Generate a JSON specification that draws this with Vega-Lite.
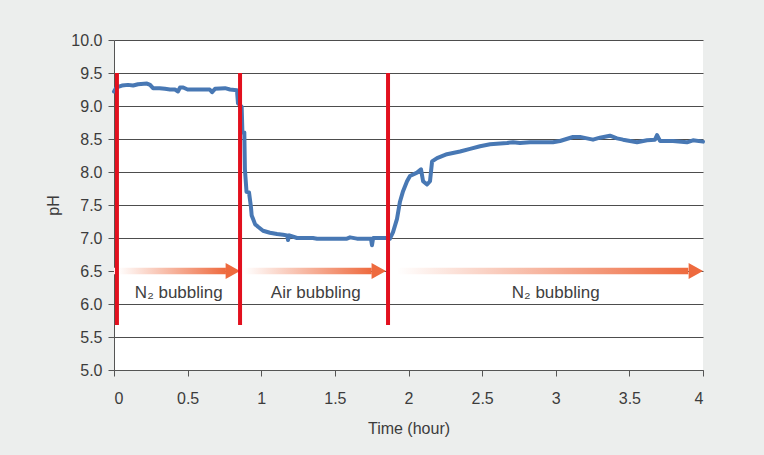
{
  "$schema": "https://vega.github.io/schema/vega-lite/v6.json",
  "width": 589,
  "height": 330,
  "autosize": {"type": "none"},
  "padding": {"left": 114, "top": 40, "right": 61, "bottom": 85},
  "background": "#eceeed",
  "config": {
    "view": {"fill": "#ffffff", "stroke": null},
    "font": "Liberation Sans",
    "axis": {
      "labelFont": "Liberation Sans",
      "titleFont": "Liberation Sans",
      "labelFontSize": 16,
      "titleFontSize": 16,
      "titleFontWeight": "normal",
      "labelColor": "#3c3c3c",
      "titleColor": "#3c3c3c",
      "domainColor": "#555555",
      "tickColor": "#555555",
      "gridColor": "#4d4d4d",
      "gridOpacity": 1
    }
  },
  "datasets": {
    "ph": [
      {"t": 0.0, "ph": 9.22}, {"t": 0.014, "ph": 9.27}, {"t": 0.027, "ph": 9.29}, {"t": 0.054, "ph": 9.31},
      {"t": 0.095, "ph": 9.32}, {"t": 0.13, "ph": 9.31}, {"t": 0.163, "ph": 9.33}, {"t": 0.224, "ph": 9.34},
      {"t": 0.245, "ph": 9.32}, {"t": 0.265, "ph": 9.27}, {"t": 0.31, "ph": 9.27}, {"t": 0.346, "ph": 9.26},
      {"t": 0.38, "ph": 9.25}, {"t": 0.414, "ph": 9.25}, {"t": 0.435, "ph": 9.22}, {"t": 0.448, "ph": 9.28},
      {"t": 0.47, "ph": 9.28}, {"t": 0.5, "ph": 9.25}, {"t": 0.65, "ph": 9.25}, {"t": 0.666, "ph": 9.21},
      {"t": 0.686, "ph": 9.26}, {"t": 0.754, "ph": 9.27}, {"t": 0.788, "ph": 9.25}, {"t": 0.835, "ph": 9.24},
      {"t": 0.842, "ph": 9.04}, {"t": 0.867, "ph": 8.99}, {"t": 0.872, "ph": 8.6}, {"t": 0.885, "ph": 8.6},
      {"t": 0.889, "ph": 8.04}, {"t": 0.9, "ph": 7.7}, {"t": 0.917, "ph": 7.69}, {"t": 0.93, "ph": 7.47},
      {"t": 0.935, "ph": 7.34}, {"t": 0.944, "ph": 7.29}, {"t": 0.958, "ph": 7.21}, {"t": 0.978, "ph": 7.17},
      {"t": 1.012, "ph": 7.11}, {"t": 1.059, "ph": 7.08}, {"t": 1.107, "ph": 7.06}, {"t": 1.148, "ph": 7.05},
      {"t": 1.175, "ph": 7.04}, {"t": 1.182, "ph": 6.97}, {"t": 1.19, "ph": 7.04}, {"t": 1.243, "ph": 7.0},
      {"t": 1.351, "ph": 7.0}, {"t": 1.379, "ph": 6.99}, {"t": 1.582, "ph": 6.99}, {"t": 1.603, "ph": 7.01},
      {"t": 1.65, "ph": 6.99}, {"t": 1.745, "ph": 6.99}, {"t": 1.752, "ph": 6.89}, {"t": 1.76, "ph": 7.0},
      {"t": 1.854, "ph": 7.0}, {"t": 1.874, "ph": 6.99}, {"t": 1.895, "ph": 7.09}, {"t": 1.922, "ph": 7.29},
      {"t": 1.942, "ph": 7.55}, {"t": 1.963, "ph": 7.71}, {"t": 1.99, "ph": 7.86}, {"t": 2.01, "ph": 7.94},
      {"t": 2.058, "ph": 7.99}, {"t": 2.085, "ph": 8.04}, {"t": 2.099, "ph": 7.86}, {"t": 2.126, "ph": 7.81},
      {"t": 2.146, "ph": 7.86}, {"t": 2.16, "ph": 8.16}, {"t": 2.194, "ph": 8.21}, {"t": 2.261, "ph": 8.27},
      {"t": 2.35, "ph": 8.31}, {"t": 2.418, "ph": 8.35}, {"t": 2.486, "ph": 8.39}, {"t": 2.554, "ph": 8.42},
      {"t": 2.669, "ph": 8.44}, {"t": 2.71, "ph": 8.45}, {"t": 2.757, "ph": 8.44}, {"t": 2.825, "ph": 8.45},
      {"t": 2.981, "ph": 8.45}, {"t": 3.029, "ph": 8.47}, {"t": 3.117, "ph": 8.53}, {"t": 3.165, "ph": 8.53},
      {"t": 3.212, "ph": 8.51}, {"t": 3.253, "ph": 8.49}, {"t": 3.3, "ph": 8.52}, {"t": 3.368, "ph": 8.55},
      {"t": 3.416, "ph": 8.51}, {"t": 3.457, "ph": 8.49}, {"t": 3.552, "ph": 8.45}, {"t": 3.62, "ph": 8.48},
      {"t": 3.674, "ph": 8.49}, {"t": 3.688, "ph": 8.56}, {"t": 3.708, "ph": 8.47}, {"t": 3.796, "ph": 8.47},
      {"t": 3.891, "ph": 8.45}, {"t": 3.932, "ph": 8.48}, {"t": 4.0, "ph": 8.46}
    ],
    "marks": [{"t": 0.02}, {"t": 0.856}, {"t": 1.861}],
    "arrows": [
      {"start": 0.0, "base": 0.76, "tip": 0.856},
      {"start": 0.856, "base": 1.75, "tip": 1.847},
      {"start": 1.861, "base": 3.9, "tip": 4.0}
    ],
    "labels": [
      {"t": 0.44, "ph": 6.17, "label": "N₂ bubbling"},
      {"t": 1.37, "ph": 6.17, "label": "Air bubbling"},
      {"t": 3.0, "ph": 6.17, "label": "N₂ bubbling"}
    ]
  },
  "layer": [
    {
      "data": {"name": "ph"},
      "mark": {"type": "line", "color": "#4878b4", "strokeWidth": 4, "strokeJoin": "round", "strokeCap": "round"},
      "encoding": {
        "x": {
          "field": "t", "type": "quantitative",
          "scale": {"domain": [0, 4], "nice": false},
          "axis": {
            "title": "Time (hour)", "values": [0, 0.5, 1, 1.5, 2, 2.5, 3, 3.5, 4],
            "format": "~g", "grid": false, "tickSize": 6, "labelPadding": 14, "titlePadding": 14
          }
        },
        "y": {
          "field": "ph", "type": "quantitative",
          "scale": {"domain": [5, 10], "nice": false, "zero": false},
          "axis": {
            "title": "pH", "values": [5, 5.5, 6, 6.5, 7, 7.5, 8, 8.5, 9, 9.5, 10],
            "format": ".1f", "grid": true, "tickSize": 6, "labelPadding": 6, "titlePadding": 9
          }
        }
      }
    },
    {
      "data": {"name": "arrows"},
      "mark": {
        "type": "rect",
        "color": {
          "gradient": "linear", "x1": 0, "x2": 1, "y1": 0, "y2": 0,
          "stops": [
            {"offset": 0, "color": "#ffffff"},
            {"offset": 0.03, "color": "#ffffff"},
            {"offset": 1, "color": "#ee6a3e"}
          ]
        }
      },
      "encoding": {
        "x": {"field": "start", "type": "quantitative",
          "axis": {
            "title": "Time (hour)", "values": [0, 0.5, 1, 1.5, 2, 2.5, 3, 3.5, 4],
            "format": "~g", "grid": false, "tickSize": 6, "labelPadding": 14, "titlePadding": 14
          }},
        "x2": {"field": "base"},
        "y": {"datum": 6.45, "type": "quantitative",
          "axis": {
            "title": "pH", "values": [5, 5.5, 6, 6.5, 7, 7.5, 8, 8.5, 9, 9.5, 10],
            "format": ".1f", "grid": true, "tickSize": 6, "labelPadding": 6, "titlePadding": 9
          }},
        "y2": {"datum": 6.55}
      }
    },
    {
      "data": {"name": "arrows"},
      "mark": {
        "type": "point", "filled": true, "opacity": 1, "color": "#ee6a3e",
        "shape": "M -1.8 -1 L 0 0 L -1.8 1 Z", "size": 256
      },
      "encoding": {
        "x": {"field": "tip", "type": "quantitative",
          "axis": {
            "title": "Time (hour)", "values": [0, 0.5, 1, 1.5, 2, 2.5, 3, 3.5, 4],
            "format": "~g", "grid": false, "tickSize": 6, "labelPadding": 14, "titlePadding": 14
          }},
        "y": {"datum": 6.5, "type": "quantitative",
          "axis": {
            "title": "pH", "values": [5, 5.5, 6, 6.5, 7, 7.5, 8, 8.5, 9, 9.5, 10],
            "format": ".1f", "grid": true, "tickSize": 6, "labelPadding": 6, "titlePadding": 9
          }}
      }
    },
    {
      "data": {"name": "marks"},
      "mark": {"type": "rule", "color": "#e2101e", "strokeWidth": 4},
      "encoding": {
        "x": {"field": "t", "type": "quantitative",
          "axis": {
            "title": "Time (hour)", "values": [0, 0.5, 1, 1.5, 2, 2.5, 3, 3.5, 4],
            "format": "~g", "grid": false, "tickSize": 6, "labelPadding": 14, "titlePadding": 14
          }},
        "y": {"datum": 9.5, "type": "quantitative",
          "axis": {
            "title": "pH", "values": [5, 5.5, 6, 6.5, 7, 7.5, 8, 8.5, 9, 9.5, 10],
            "format": ".1f", "grid": true, "tickSize": 6, "labelPadding": 6, "titlePadding": 9
          }},
        "y2": {"datum": 5.68}
      }
    },
    {
      "data": {"name": "labels"},
      "mark": {"type": "text", "fontSize": 17, "color": "#404040", "font": "Liberation Sans"},
      "encoding": {
        "x": {"field": "t", "type": "quantitative",
          "axis": {
            "title": "Time (hour)", "values": [0, 0.5, 1, 1.5, 2, 2.5, 3, 3.5, 4],
            "format": "~g", "grid": false, "tickSize": 6, "labelPadding": 14, "titlePadding": 14
          }},
        "y": {"field": "ph", "type": "quantitative",
          "axis": {
            "title": "pH", "values": [5, 5.5, 6, 6.5, 7, 7.5, 8, 8.5, 9, 9.5, 10],
            "format": ".1f", "grid": true, "tickSize": 6, "labelPadding": 6, "titlePadding": 9
          }},
        "text": {"field": "label"}
      }
    }
  ]
}
